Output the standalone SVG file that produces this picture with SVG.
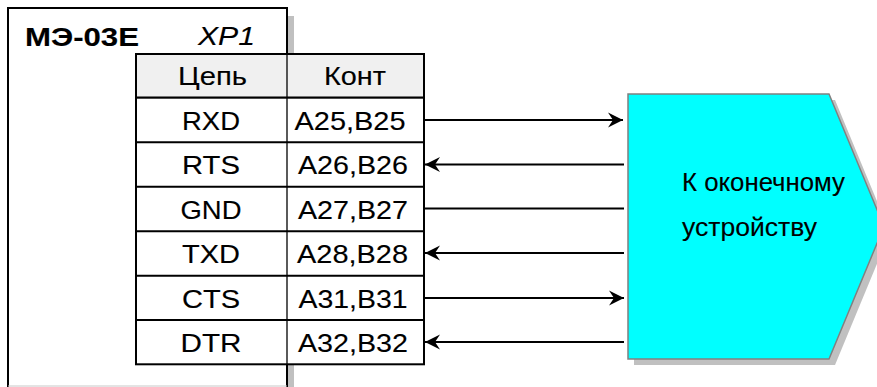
<svg xmlns="http://www.w3.org/2000/svg" width="877" height="387" viewBox="0 0 877 387">
<defs>
<marker id="ah" markerUnits="userSpaceOnUse" markerWidth="17" markerHeight="17" viewBox="-16 -8.5 17 17" refX="0" refY="0" orient="auto">
<path d="M0,0 L-15,-7.5 L-10,0 L-15,7.5 Z" fill="#000"/>
</marker>
</defs>
<style>
text{font-family:"Liberation Sans",Arial,sans-serif;font-size:25px;fill:#000;stroke:#000;stroke-width:0.12}
.c{text-anchor:middle}
.cell{stroke:#000;stroke-width:2}
.wire{stroke:#000;stroke-width:2;fill:none}
</style>
<rect x="0" y="0" width="877" height="387" fill="#fff"/>
<g id="block">
<rect x="15" y="16" width="279" height="380" fill="#c0c0c0"/>
<rect x="8" y="8" width="279" height="385" fill="#fff" stroke="#000" stroke-width="2"/>
<line x1="8" y1="386" x2="287" y2="386" stroke="#c8c8c8" stroke-width="1"/>
<text x="25" y="46" font-weight="bold" font-size="27" textLength="114" lengthAdjust="spacingAndGlyphs">МЭ-03Е</text>
<text x="226.5" y="45" class="c" font-style="italic" textLength="57" lengthAdjust="spacingAndGlyphs">XP1</text>
</g>
<g id="table">
<rect x="136" y="54" width="288" height="43.7" fill="#f0f0f0" class="cell"/>
<rect x="136" y="97.7" width="288" height="266.6" fill="#fff" class="cell"/>
<line x1="136" y1="142.3" x2="424" y2="142.3" class="cell"/>
<line x1="136" y1="186.7" x2="424" y2="186.7" class="cell"/>
<line x1="136" y1="231.3" x2="424" y2="231.3" class="cell"/>
<line x1="136" y1="275.7" x2="424" y2="275.7" class="cell"/>
<line x1="136" y1="320" x2="424" y2="320" class="cell"/>
<line x1="287" y1="54" x2="287" y2="364.3" stroke="#000" stroke-width="1.3"/>
<text x="212.5" y="85" class="c" textLength="69" lengthAdjust="spacingAndGlyphs">Цепь</text>
<text x="355" y="85" class="c" textLength="62" lengthAdjust="spacingAndGlyphs">Конт</text>
<text x="211" y="129.5" class="c" textLength="58" lengthAdjust="spacingAndGlyphs">RXD</text>
<text x="211" y="174" class="c" textLength="58" lengthAdjust="spacingAndGlyphs">RTS</text>
<text x="211" y="218.5" class="c" textLength="61" lengthAdjust="spacingAndGlyphs">GND</text>
<text x="211" y="263" class="c" textLength="58" lengthAdjust="spacingAndGlyphs">TXD</text>
<text x="211" y="307.5" class="c" textLength="58" lengthAdjust="spacingAndGlyphs">CTS</text>
<text x="211" y="351.5" class="c" textLength="61" lengthAdjust="spacingAndGlyphs">DTR</text>
<text x="350" y="129.5" class="c" textLength="111" lengthAdjust="spacingAndGlyphs">A25,B25</text>
<text x="353" y="174" class="c" textLength="110" lengthAdjust="spacingAndGlyphs">A26,B26</text>
<text x="353" y="218.5" class="c" textLength="110" lengthAdjust="spacingAndGlyphs">A27,B27</text>
<text x="352.5" y="263" class="c" textLength="111" lengthAdjust="spacingAndGlyphs">A28,B28</text>
<text x="353" y="307.5" class="c" textLength="109" lengthAdjust="spacingAndGlyphs">A31,B31</text>
<text x="353" y="351.5" class="c" textLength="110" lengthAdjust="spacingAndGlyphs">A32,B32</text>
</g>
<g id="device">
<polygon points="634,100 835,100 890,232.5 835,365 634,365" fill="#c0c0c0"/>
<polygon points="628,94 829,94 884,226.5 829,359 628,359" fill="#00ffff" stroke="#808080" stroke-width="1.5"/>
<text x="682" y="191" textLength="163" lengthAdjust="spacingAndGlyphs">К оконечному</text>
<text x="682" y="236" textLength="135" lengthAdjust="spacingAndGlyphs">устройству</text>
</g>
<g id="connectors">
<line x1="425" y1="120" x2="623" y2="120" class="wire" marker-end="url(#ah)"/>
<line x1="624" y1="164.5" x2="425" y2="164.5" class="wire" marker-end="url(#ah)"/>
<line x1="425" y1="208.5" x2="624" y2="208.5" class="wire"/>
<line x1="624" y1="253" x2="425" y2="253" class="wire" marker-end="url(#ah)"/>
<line x1="425" y1="298" x2="624" y2="298" class="wire" marker-end="url(#ah)"/>
<line x1="624" y1="342" x2="425" y2="342" class="wire" marker-end="url(#ah)"/>
</g>
</svg>
